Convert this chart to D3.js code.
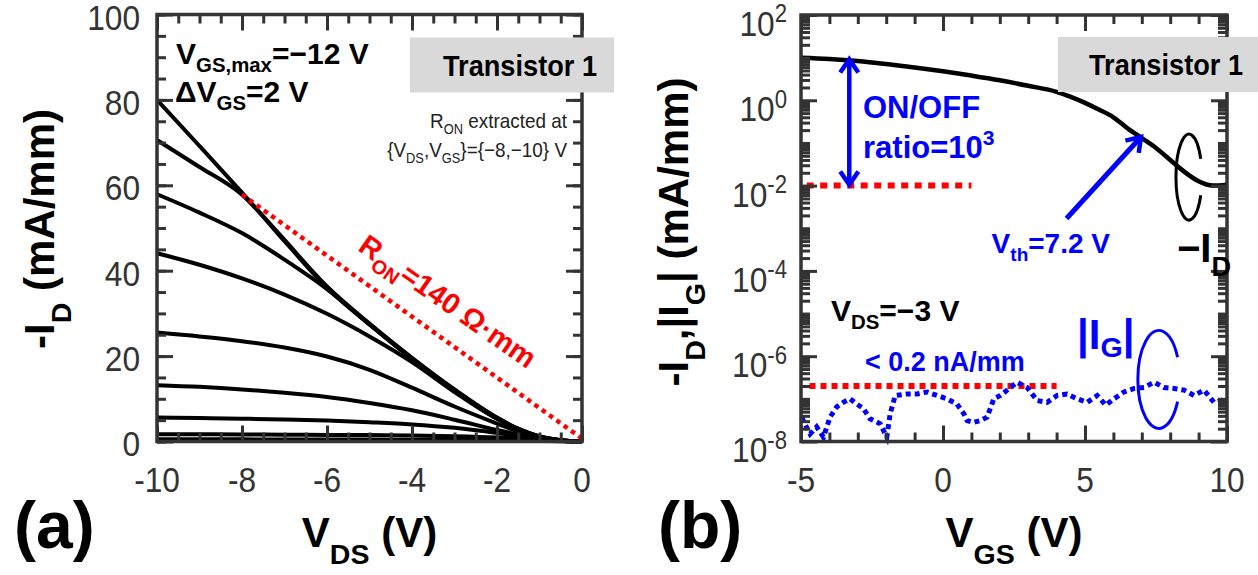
<!DOCTYPE html>
<html>
<head>
<meta charset="utf-8">
<script src="https://cdn.jsdelivr.net/npm/d3@7"></script>
<style>
  body { margin: 0; background: #fff; }
  svg { display: block; }
</style>
</head>
<body>
<svg id="chart" width="1258" height="575"></svg>
<script>
/* DATA */
// panel (a): output curves, -ID (mA/mm) vs VDS (V), VGS = -12 ... 4 V in 2 V steps
const vdsPts = [-10, -9, -8, -7, -6, -5, -4, -3, -2, -1.5, -1, -0.5, 0];
const vgsSteps = [-12, -10, -8, -6, -4, -2, 0, 2, 4];
const idOut = [
  [80.0, 69.2, 58.3, 47.2, 36.3, 27.6, 19.6, 12.2, 5.6, 3.0, 1.2, 0.3, 0],
  [70.6, 64.3, 57.8, 46.9, 36.0, 27.4, 19.4, 12.0, 5.5, 2.9, 1.2, 0.3, 0],
  [57.9, 53.6, 48.8, 42.6, 35.7, 27.4, 19.3, 11.9, 5.4, 2.9, 1.1, 0.3, 0],
  [44.1, 41.4, 38.2, 34.4, 29.9, 24.6, 18.6, 11.6, 5.3, 2.8, 1.1, 0.3, 0],
  [25.5, 24.6, 23.5, 22.0, 19.9, 16.8, 12.6, 8.2, 4.2, 2.3, 0.9, 0.25, 0],
  [13.2, 12.8, 12.2, 11.4, 10.4, 9.0, 7.3, 5.1, 2.7, 1.6, 0.7, 0.2, 0],
  [5.6, 5.5, 5.35, 5.15, 4.9, 4.5, 4.0, 3.2, 2.0, 1.3, 0.6, 0.15, 0],
  [1.7, 1.7, 1.65, 1.6, 1.55, 1.5, 1.4, 1.25, 0.95, 0.7, 0.35, 0.1, 0],
  [0.5, 0.5, 0.5, 0.48, 0.46, 0.44, 0.42, 0.38, 0.3, 0.22, 0.12, 0.04, 0]
];
const ronLine = [[-8, 57.8], [0, 0.7]];        // R_ON = 140 ohm.mm

// panel (b): transfer curve at VDS = -3 V
const vgsPts = [-5, -4, -3, -2, -1, 0, 1, 2, 3, 4, 4.5, 5, 5.5, 6, 6.5, 7, 7.5, 8, 8.5, 9, 9.5, 10];
const idTransfer = [10, 9.33, 8.32, 7.08, 5.89, 4.79, 3.8, 2.95, 2.19, 1.58, 1.2, 0.87, 0.6, 0.4,
                    0.22, 0.13, 0.076, 0.04, 0.021, 0.0126, 0.01, 0.0105];
const igPts = [-4.98, -4.68, -4.45, -4.21, -3.98, -3.74, -3.51, -3.27, -3.04, -2.8, -2.57, -2.21,
               -1.98, -1.86, -1.68, -1.27, -0.92, -0.56, -0.21, 0.14, 0.49, 0.73, 0.85, 1.08, 1.32,
               1.55, 1.79, 2.02, 2.38, 2.61, 2.96, 3.32, 3.67, 4.02, 4.37, 4.73, 5.08, 5.43, 5.73,
               6.02, 6.37, 6.73, 7.08, 7.43, 7.78, 8.14, 8.49, 8.84, 9.19, 9.54, 9.77, 10];
const igGate = [3.7e-8, 1.5e-8, 2.2e-8, 1.26e-8, 3.7e-8, 6.5e-8, 8.3e-8, 1.0e-7, 7.6e-8, 5.9e-8,
                3.4e-8, 2.6e-8, 1.26e-8, 4.5e-8, 1.2e-7, 1.3e-7, 1.3e-7, 1.45e-7, 1.2e-7, 1.0e-7,
                7.6e-8, 4.5e-8, 3.1e-8, 2.8e-8, 3.1e-8, 3.7e-8, 1.0e-7, 1.2e-7, 1.85e-7, 2.45e-7,
                1.85e-7, 9.1e-8, 8.3e-8, 1.2e-7, 1.3e-7, 1.0e-7, 8.3e-8, 1.2e-7, 7.1e-8, 1.0e-7,
                1.45e-7, 1.75e-7, 1.85e-7, 2.45e-7, 1.85e-7, 1.75e-7, 1.6e-7, 1.2e-7, 1.6e-7,
                8.3e-8, 9.1e-8, 1.0e-7];
const onLevel = {from: -4.8, to: 1, value: 1e-2};
const igLimit = {from: -4.7, to: 4, value: 2e-7};
const yTicksA = [0, 20, 40, 60, 80, 100];
const xTicksA = [-10, -8, -6, -4, -2, 0];
const xTicksB = [-5, 0, 5, 10];
const yExpB = [2, 0, -2, -4, -6, -8];

/* CONSTANTS */
const SANS = '"Liberation Sans",Arial,sans-serif';
const AX = "#333";
const RED = "#ff0000", BLUE = "#0000ff";

const svg = d3.select("#chart");

// rich text helper (subscripts / superscripts), optional horizontal squeeze
function rich(parent, x, y, parts, o) {
  const t = parent.append("text").attr("x", x).attr("y", y)
    .attr("font-size", o.size).attr("font-weight", o.weight || "bold")
    .attr("font-family", SANS)
    .attr("fill", o.fill || "#000").attr("text-anchor", o.anchor || "start");
  let tr = "";
  if (o.rotate != null) tr += `rotate(${o.rotate},${x},${y}) `;
  if (o.squeeze) tr += `translate(${x},${y}) scale(${o.squeeze},1) translate(${-x},${-y})`;
  if (tr) t.attr("transform", tr);
  let shift = 0;
  parts.forEach(p => {
    const [s, kind] = typeof p === "string" ? [p, "n"] : p;
    const target = kind === "sub" ? o.size * (o.subDy || 0.28) : kind === "sup" ? -o.size * (o.supDy || 0.42) : 0;
    t.append("tspan").attr("dy", target - shift)
      .attr("font-size", kind === "n" ? o.size : o.size * (o.subScale || 0.68)).text(s);
    shift = target;
  });
  return t;
}

// inward ticks on all four sides
function frameTicks(g, x, y, w, h, xMaj, xMin, yMaj, yMin) {
  const style = sel => {
    sel.select(".domain").remove();
    sel.selectAll("line").attr("stroke", AX).attr("stroke-width", 3);
  };
  const add = (axis, tr) => g.append("g").attr("transform", tr).call(axis).call(style);
  [[xMaj, 16], [xMin, 9]].forEach(([vals, len]) => {
    add(d3.axisBottom(x).tickValues(vals).tickSize(-len).tickFormat(""), `translate(0,${h})`);
    add(d3.axisTop(x).tickValues(vals).tickSize(-len).tickFormat(""), "translate(0,0)");
  });
  [[yMaj, 16], [yMin, 9]].forEach(([vals, len]) => {
    add(d3.axisLeft(y).tickValues(vals).tickSize(-len).tickFormat(""), "translate(0,0)");
    add(d3.axisRight(y).tickValues(vals).tickSize(-len).tickFormat(""), `translate(${w},0)`);
  });
  g.append("rect").attr("width", w).attr("height", h)
    .attr("fill", "none").attr("stroke", AX).attr("stroke-width", 3.5);
}

function arrowHead(g, tip, from, len, half, color) {
  const a = Math.atan2(from[1] - tip[1], from[0] - tip[0]);
  const p = s => [tip[0] + len * Math.cos(a + s * half), tip[1] + len * Math.sin(a + s * half)];
  g.append("path").attr("d", d3.line()([p(1), tip, p(-1)]))
    .attr("fill", "none").attr("stroke", color).attr("stroke-width", 4.5)
    .attr("stroke-linejoin", "miter").attr("stroke-linecap", "butt");
}

function openEllipse(g, cx, cy, rx, ry, gapDeg, color) {
  const r = gapDeg * Math.PI / 180;
  const x0 = cx + rx * Math.cos(r), y0 = cy + ry * Math.sin(r);
  const x1 = cx + rx * Math.cos(-r), y1 = cy + ry * Math.sin(-r);
  g.append("path").attr("d", `M${x0},${y0} A${rx},${ry} 0 1 1 ${x1},${y1}`)
    .attr("fill", "none").attr("stroke", color).attr("stroke-width", 3);
}

// gray label box, sits on top of the frame
function grayBox(g, x, y, w, h) {
  g.append("rect").attr("x", x).attr("y", y).attr("width", w).attr("height", h).attr("fill", "#d9d9d9");
  g.append("text").attr("x", x + w / 2 + 8).attr("y", y + 38).attr("text-anchor", "middle")
    .attr("font-family", SANS).attr("font-weight", "bold").attr("font-size", 29)
    .attr("textLength", 154).attr("lengthAdjust", "spacingAndGlyphs").text("Transistor 1");
}

/* ---------- PANEL (a) ---------- */
const A = {left: 157, top: 14.5, w: 425, h: 427};
const ga = svg.append("g").attr("transform", `translate(${A.left},${A.top})`);
const xa = d3.scaleLinear().domain([-10, 0]).range([0, A.w]);
const ya = d3.scaleLinear().domain([0, 100]).range([A.h, 0]);

const lineA = d3.line().x((d, i) => xa(vdsPts[i])).y(d => ya(d)).curve(d3.curveMonotoneX);
ga.selectAll(".out").data(idOut).join("path").attr("class", "out")
  .attr("d", lineA).attr("fill", "none").attr("stroke", "#000").attr("stroke-width", 4);

ga.append("path").datum(ronLine)
  .attr("d", d3.line().x(d => xa(d[0])).y(d => ya(d[1])))
  .attr("stroke", RED).attr("stroke-width", 4.5).attr("stroke-dasharray", "4.5,4.5").attr("fill", "none");

frameTicks(ga, xa, ya, A.w, A.h, xTicksA, d3.range(-10, 0.01, 0.5), yTicksA, d3.range(0, 100.1, 5));
grayBox(ga, 253, 23, 204, 55);

yTicksA.forEach(d => rich(ga, -17, ya(d) + 15, ["" + d],
  {size: 36, weight: "normal", anchor: "end", fill: AX, squeeze: 0.88}));
xTicksA.forEach(d => rich(ga, xa(d), A.h + 51, ["" + d],
  {size: 36, weight: "normal", anchor: "middle", fill: AX, squeeze: 0.88}));

rich(ga, 19, 49, ["V", ["GS,max", "sub"], "=−12 V"], {size: 30});
rich(ga, 18, 87, ["ΔV", ["GS", "sub"], "=2 V"], {size: 30});
rich(ga, 410, 114, ["R", ["ON", "sub"], " extracted at"], {size: 21, weight: "normal", anchor: "end", fill: "#222", squeeze: 0.9});
rich(ga, 410, 143, ["{V", ["DS", "sub"], ",V", ["GS", "sub"], "}={−8,−10} V"], {size: 21, weight: "normal", anchor: "end", fill: "#222", squeeze: 0.9});
rich(ga, xa(-5.3), ya(44.9), ["R", ["ON", "sub"], "=140 Ω·mm"], {size: 29, fill: RED, rotate: 35});

// axis titles
rich(svg, A.left + A.w / 2, 547, ["V", ["DS", "sub"], " (V)"], {size: 42, anchor: "middle", subDy: 0.4});
rich(svg, 54, 229, ["-I", ["D", "sub"], " (mA/mm)"], {size: 42, anchor: "middle", rotate: -90, subDy: 0.4});
svg.append("text").attr("x", 14).attr("y", 548).attr("font-family", SANS).attr("font-weight", "bold")
  .attr("font-size", 66).text("(a)");

/* ---------- PANEL (b) ---------- */
const B = {left: 801, top: 15, w: 426, h: 426.5};
const gb = svg.append("g").attr("transform", `translate(${B.left},${B.top})`);
const xb = d3.scaleLinear().domain([-5, 10]).range([0, B.w]);
const yb = d3.scaleLog().domain([1e-8, 1e2]).range([B.h, 0]);

// reference levels
gb.append("line").attr("x1", xb(onLevel.from)).attr("x2", xb(onLevel.to))
  .attr("y1", yb(onLevel.value)).attr("y2", yb(onLevel.value)).attr("stroke", RED)
  .attr("stroke-width", 6).attr("stroke-dasharray", "7,6.5");
gb.append("line").attr("x1", xb(igLimit.from)).attr("x2", xb(igLimit.to))
  .attr("y1", yb(igLimit.value)).attr("y2", yb(igLimit.value)).attr("stroke", RED)
  .attr("stroke-width", 6).attr("stroke-dasharray", "6,5");

gb.append("path").datum(idTransfer)
  .attr("d", d3.line().x((d, i) => xb(vgsPts[i])).y(d => yb(d)).curve(d3.curveMonotoneX))
  .attr("fill", "none").attr("stroke", "#000").attr("stroke-width", 4.5);

gb.append("path").datum(igGate)
  .attr("d", d3.line().x((d, i) => xb(igPts[i])).y(d => yb(d)))
  .attr("fill", "none").attr("stroke", BLUE).attr("stroke-width", 5).attr("stroke-dasharray", "5,4");

const decades = d3.range(-8, 3);
const logMinor = [];
decades.slice(0, -1).forEach(e => { for (let k = 2; k <= 9; k++) logMinor.push(k * Math.pow(10, e)); });
decades.filter(e => e % 2 !== 0).forEach(e => logMinor.push(Math.pow(10, e)));
frameTicks(gb, xb, yb, B.w, B.h, xTicksB, d3.range(-5, 10.01, 1),
  yExpB.map(e => Math.pow(10, e)), logMinor);
grayBox(gb, 257, 22, 200, 55);

xTicksB.forEach(d => rich(gb, xb(d), B.h + 51, ["" + d],
  {size: 36, weight: "normal", anchor: "middle", fill: AX, squeeze: 0.88}));
yExpB.forEach(e => {
  rich(gb, -14, yb(Math.pow(10, e)) + 21, ["10", ["" + e, "sup"]],
    {size: 36, weight: "normal", anchor: "end", fill: AX, subScale: 0.7, supDy: 0.38, squeeze: 0.88});
});

// annotations
const dblX = xb(-3.3), dblTop = yb(9.2), dblBot = yb(0.0105);
gb.append("line").attr("x1", dblX).attr("x2", dblX).attr("y1", dblTop).attr("y2", dblBot)
  .attr("stroke", BLUE).attr("stroke-width", 4.5);
arrowHead(gb, [dblX, dblTop], [dblX, dblBot], 16, 0.6, BLUE);
arrowHead(gb, [dblX, dblBot], [dblX, dblTop], 16, 0.6, BLUE);
rich(gb, 62, 103, ["ON/OFF"], {size: 31, fill: BLUE});
rich(gb, 62, 143, ["ratio=10", ["3", "sup"]], {size: 31, fill: BLUE});

const vthFrom = [xb(4.35), yb(Math.pow(10, -2.77))], vthTip = [xb(6.97), yb(Math.pow(10, -0.86))];
gb.append("line").attr("x1", vthFrom[0]).attr("y1", vthFrom[1]).attr("x2", vthTip[0]).attr("y2", vthTip[1])
  .attr("stroke", BLUE).attr("stroke-width", 5);
arrowHead(gb, vthTip, vthFrom, 16, 0.6, BLUE);
rich(gb, 309, 238, ["V", ["th", "sub"], "=7.2 V"], {size: 28, fill: BLUE, anchor: "end"});

openEllipse(gb, xb(8.66), yb(Math.pow(10, -1.8)), 13, 43, 25, "#000");
rich(gb, 376, 247, ["−I", ["D", "sub"]], {size: 40, subDy: 0.35});

rich(gb, 30, 306, ["V", ["DS", "sub"], "=−3 V"], {size: 30});
rich(gb, 64, 356, ["< 0.2 nA/mm"], {size: 27, fill: BLUE});
rich(gb, 276, 334, ["|I", ["G", "sub"], "|"], {size: 42, fill: BLUE, subDy: 0.2});
openEllipse(gb, xb(7.6), yb(Math.pow(10, -6.545)), 21, 49, 27, BLUE);

// axis titles
rich(svg, B.left + B.w / 2, 547, ["V", ["GS", "sub"], " (V)"], {size: 42, anchor: "middle", subDy: 0.4});
rich(svg, 688, 232, ["-I", ["D", "sub"], ",|I", ["G", "sub"], "| (mA/mm)"], {size: 42, anchor: "middle", rotate: -90, subDy: 0.4});
svg.append("text").attr("x", 658).attr("y", 548).attr("font-family", SANS).attr("font-weight", "bold")
  .attr("font-size", 66).text("(b)");
</script>
</body>
</html>
